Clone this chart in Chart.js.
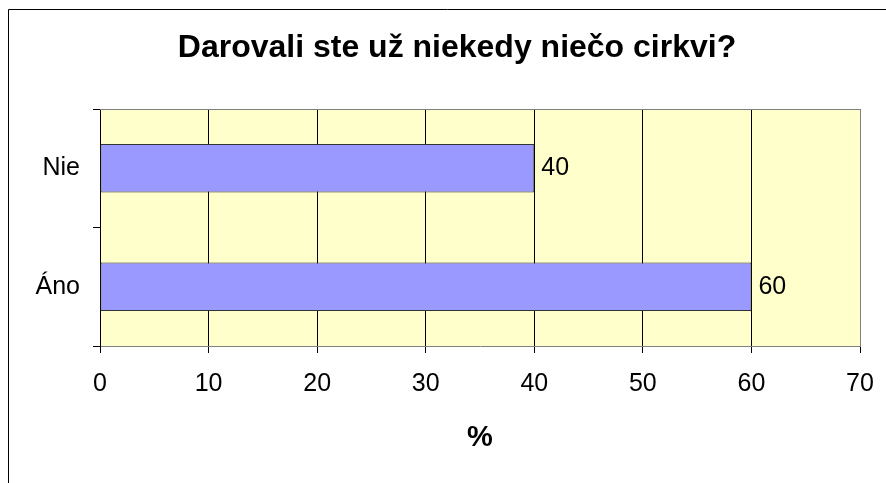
<!DOCTYPE html>
<html>
<head>
<meta charset="utf-8">
<script src="https://cdn.jsdelivr.net/npm/chart.js@4/dist/chart.umd.min.js"></script>
<style>
  html, body { margin: 0; padding: 0; background: #ffffff; }
  #c { display: block; }
</style>
</head>
<body>
<canvas id="c" width="886" height="483"></canvas>
<script>
const chartTitle = 'Darovali ste už niekedy niečo cirkvi?';
const axisTitle = '%';
const categories = ['Nie', 'Áno'];
const values = [40, 60];
const axisMin = 0;
const axisMax = 70;
const axisStep = 10;

const FONT = "Arial, 'Liberation Sans', sans-serif";

const decor = {
  id: 'decor',
  beforeDraw(chart) {
    const { ctx, chartArea: a } = chart;
    ctx.save();
    ctx.fillStyle = '#FFFFCC';
    ctx.fillRect(a.left, a.top, a.right - a.left, a.bottom - a.top);
    ctx.strokeStyle = '#000000';
    ctx.lineWidth = 1;
    ctx.beginPath();
    ctx.moveTo(8.5, 2000);
    ctx.lineTo(8.5, 9.5);
    ctx.lineTo(2000, 9.5);
    ctx.stroke();
    ctx.restore();
  },
  beforeDatasetsDraw(chart) {
    const { ctx, chartArea: a } = chart;
    ctx.save();
    ctx.strokeStyle = '#808080';
    ctx.lineWidth = 1;
    ctx.beginPath();
    ctx.moveTo(a.left, Math.round(a.top) + 0.5);
    ctx.lineTo(a.right, Math.round(a.top) + 0.5);
    ctx.stroke();
    ctx.restore();
  },
  afterDatasetsDraw(chart) {
    const { ctx } = chart;
    const meta = chart.getDatasetMeta(0);
    ctx.save();
    ctx.font = '25px ' + FONT;
    ctx.fillStyle = '#000000';
    ctx.textAlign = 'left';
    ctx.textBaseline = 'middle';
    meta.data.forEach((bar, i) => {
      ctx.fillText(String(values[i]), bar.x + 7, bar.y);
    });
    ctx.restore();
  }
};

new Chart(document.getElementById('c'), {
  type: 'bar',
  data: {
    labels: categories,
    datasets: [{
      data: values,
      backgroundColor: '#9999FF',
      borderColor: '#333333',
      borderWidth: 1,
      borderSkipped: false,
      categoryPercentage: 1,
      barPercentage: 0.41
    }]
  },
  options: {
    indexAxis: 'y',
    responsive: false,
    animation: false,
    devicePixelRatio: 1,
    layout: { padding: { left: 28, right: 0, top: 0, bottom: 0 } },
    plugins: {
      legend: { display: false },
      tooltip: { enabled: false },
      title: {
        display: true,
        text: chartTitle,
        color: '#000000',
        font: { family: FONT, size: 32, weight: 'bold', lineHeight: 1.2 },
        padding: { top: 29.3, bottom: 41.3 }
      }
    },
    scales: {
      x: {
        type: 'linear',
        min: axisMin,
        max: axisMax,
        ticks: {
          stepSize: axisStep,
          color: '#000000',
          padding: 5,
          font: { family: FONT, size: 25, lineHeight: 2.1 }
        },
        grid: {
          color: (c) => (c.tick && c.tick.value === axisMax) ? '#808080' : '#000000',
          tickColor: '#000000',
          tickLength: 7,
          lineWidth: 1
        },
        border: { display: true, color: '#808080' },
        title: {
          display: true,
          text: axisTitle,
          color: '#000000',
          font: { family: FONT, size: 29, weight: 'bold' },
          padding: { bottom: 28 }
        },
        afterFit(s) { s.height = 137; }
      },
      y: {
        type: 'category',
        offset: true,
        ticks: {
          color: '#000000',
          padding: 13,
          font: { family: FONT, size: 25 }
        },
        grid: {
          offset: true,
          drawOnChartArea: false,
          drawTicks: true,
          tickLength: 7,
          color: '#000000'
        },
        border: { display: true, color: '#000000' },
        afterFit(s) { s.width = 72; }
      },
      spacer: {
        type: 'linear',
        position: 'right',
        display: true,
        ticks: { display: false },
        grid: { display: false, drawTicks: false },
        border: { display: false },
        afterFit(s) { s.width = 26; }
      }
    }
  },
  plugins: [decor]
});
</script>
</body>
</html>
